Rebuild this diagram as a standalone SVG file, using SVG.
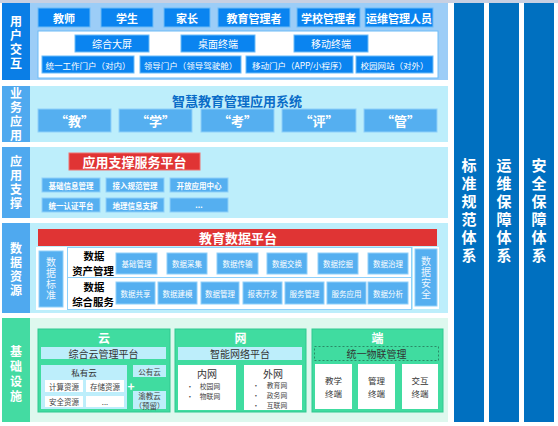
<svg xmlns="http://www.w3.org/2000/svg" width="558" height="426" viewBox="0 0 558 426">
<style>
text{font-family:"Noto Sans CJK SC","Noto Sans",sans-serif;text-anchor:middle;dominant-baseline:central}
.v{writing-mode:vertical-rl;text-orientation:upright}
.lbl{fill:#fff;font-size:12px;font-weight:bold;letter-spacing:2px}
.lbl3{fill:#fff;font-size:12px;font-weight:bold;letter-spacing:3px}
.hd{fill:#fff;font-size:13px;font-weight:bold}
.hd2{fill:#fff;font-size:12px;font-weight:bold}
.col{fill:#fff;font-size:15px;font-weight:bold;letter-spacing:3px}
.btn{fill:#0a84f0;stroke:#6cbcf8;stroke-width:1}
.btnt{fill:#fff;font-size:11px;font-weight:bold}
.bt2{fill:#fff;font-size:10px}
.bt3{fill:#fff;font-size:8.5px}
.vt{fill:#eef7ff;font-size:10px;letter-spacing:1px}
.mb{fill:#55aff0;stroke:#8fd0fa;stroke-width:1}
.sm{fill:#fff;font-size:7.5px}
.smb{fill:#fff;font-size:7.5px;font-weight:bold}
.gbox{fill:#40dca0;stroke:#30c890;stroke-width:1}
.cy{fill:#bdeefb}
.wb{fill:#fff}
.dk{fill:#333;font-size:10px}
.dk2{fill:#333;font-size:8.5px}
.dk3{fill:#444;font-size:7.5px}
.dk4{fill:#444;font-size:6.8px}
.bk{fill:#000;font-size:10.4px;font-weight:bold}
</style>
<rect width="558" height="426" fill="#fff"/>
<rect x="0" y="0" width="558" height="3" fill="#c8d0e2"/>

<g id="layer-user">
<rect x="30" y="3" width="418" height="77" fill="#9ccdf7"/>
<rect x="2" y="3" width="28" height="77" fill="#0a7ee6"/>
<text class="lbl v" x="16" y="43">用户交互</text>
<rect class="btn" x="38" y="8" width="52" height="19"/><text class="btnt" x="64" y="17.5">教师</text>
<rect class="btn" x="101" y="8" width="52" height="19"/><text class="btnt" x="127" y="17.5">学生</text>
<rect class="btn" x="164" y="8" width="46" height="19"/><text class="btnt" x="187" y="17.5">家长</text>
<rect class="btn" x="218" y="8" width="72" height="19"/><text class="btnt" x="254" y="17.5">教育管理者</text>
<rect class="btn" x="297" y="8" width="63" height="19"/><text class="btnt" x="328.5" y="17.5">学校管理者</text>
<rect class="btn" x="365" y="8" width="68" height="19"/><text class="btnt" x="399" y="17.5">运维管理人员</text>
<rect x="38" y="31" width="400" height="47" fill="#fff" stroke="#6cbcf8"/>
<rect class="btn" x="75" y="35" width="74" height="17"/><text class="bt2" x="112" y="43.5">综合大屏</text>
<rect class="btn" x="181" y="35" width="74" height="17"/><text class="bt2" x="218" y="43.5">桌面终端</text>
<rect class="btn" x="294" y="35" width="74" height="17"/><text class="bt2" x="331" y="43.5">移动终端</text>
<rect class="btn" x="42" y="56" width="92" height="17"/><text class="bt3" x="88" y="64.5">统一工作门户（对内）</text>
<rect class="btn" x="140" y="56" width="101" height="17"/><text class="bt3" x="190.5" y="64.5">领导门户（领导驾驶舱）</text>
<rect class="btn" x="246" y="56" width="107" height="17"/><text class="bt3" x="299.5" y="64.5">移动门户（APP/小程序）</text>
<rect class="btn" x="356" y="56" width="77" height="17"/><text class="bt3" x="394.5" y="64.5">校园网站（对外）</text>
</g>

<g id="layer-business">
<rect x="30" y="86" width="418" height="56" fill="#bdeefb"/>
<rect x="2" y="86" width="28" height="56" fill="#4fa9ef"/>
<text class="lbl v" x="16" y="115">业务应用</text>
<text x="237" y="100" fill="#0a6cc8" font-size="13" font-weight="bold">智慧教育管理应用系统</text>
<rect class="mb" x="38" y="109" width="73" height="23"/><text class="hd" x="74.5" y="120.5">“教”</text>
<rect class="mb" x="119" y="109" width="73" height="23"/><text class="hd" x="155.5" y="120.5">“学”</text>
<rect class="mb" x="201" y="109" width="73" height="23"/><text class="hd" x="237.5" y="120.5">“考”</text>
<rect class="mb" x="282" y="109" width="74" height="23"/><text class="hd" x="319" y="120.5">“评”</text>
<rect class="mb" x="364" y="109" width="73" height="23"/><text class="hd" x="400.5" y="120.5">“管”</text>
</g>

<g id="layer-support">
<rect x="30" y="147" width="418" height="71" fill="#bdeefb"/>
<rect x="2" y="147" width="28" height="71" fill="#4fa9ef"/>
<text class="lbl v" x="16" y="183.5">应用支撑</text>
<rect x="69" y="153" width="131" height="17" fill="#e03434" stroke="#f07070"/><text class="hd" x="134.5" y="161.5">应用支撑服务平台</text>
<rect class="mb" x="42" y="178" width="58" height="14"/><text class="smb" x="71" y="185">基础信息管理</text>
<rect class="mb" x="106" y="178" width="58" height="14"/><text class="smb" x="135" y="185">接入规范管理</text>
<rect class="mb" x="170" y="178" width="58" height="14"/><text class="smb" x="199" y="185">开放应用中心</text>
<rect class="mb" x="42" y="198" width="58" height="14"/><text class="smb" x="71" y="205">统一认证平台</text>
<rect class="mb" x="106" y="198" width="58" height="14"/><text class="smb" x="135" y="205">地理信息支撑</text>
<rect class="mb" x="170" y="198" width="58" height="14"/><text class="smb" x="199" y="204">...</text>
</g>

<g id="layer-data">
<rect x="30" y="223" width="418" height="90" fill="#bdeefb"/>
<rect x="2" y="223" width="28" height="90" fill="#4fa9ef"/>
<text class="lbl v" x="16" y="270.5">数据资源</text>
<rect x="38" y="229" width="399" height="17" fill="#e03434"/><text class="hd" x="238" y="237.5">教育数据平台</text>
<rect x="36" y="247" width="376" height="63" fill="#fff"/>
<rect class="mb" x="39" y="251" width="24" height="56"/>
<text class="vt v" x="51" y="279">数据标准</text>
<rect x="67.5" y="247.5" width="344" height="30" fill="none" stroke="#8fd0fa"/>
<rect x="67.5" y="277.5" width="344" height="32" fill="none" stroke="#8fd0fa"/>
<text class="bk"><tspan x="94" y="255">数据</tspan><tspan x="93" y="270">资产管理</tspan></text>
<text class="bk"><tspan x="94" y="286">数据</tspan><tspan x="93" y="301">综合服务</tspan></text>
<rect class="mb" x="116" y="253" width="41" height="21"/><text class="sm" x="136.5" y="263.5">基础管理</text>
<rect class="mb" x="167" y="253" width="40" height="21"/><text class="sm" x="187" y="263.5">数据采集</text>
<rect class="mb" x="217" y="253" width="41" height="21"/><text class="sm" x="237.5" y="263.5">数据传输</text>
<rect class="mb" x="267" y="253" width="40" height="21"/><text class="sm" x="287" y="263.5">数据交换</text>
<rect class="mb" x="318" y="253" width="40" height="21"/><text class="sm" x="338" y="263.5">数据挖掘</text>
<rect class="mb" x="368" y="253" width="40" height="21"/><text class="sm" x="388" y="263.5">数据治理</text>
<rect class="mb" x="116" y="282" width="39" height="22"/><text class="sm" x="135.5" y="293">数据共享</text>
<rect class="mb" x="158" y="282" width="39" height="22"/><text class="sm" x="177.5" y="293">数据建模</text>
<rect class="mb" x="201" y="282" width="38" height="22"/><text class="sm" x="220" y="293">数据管理</text>
<rect class="mb" x="243" y="282" width="39" height="22"/><text class="sm" x="262.5" y="293">报表开发</text>
<rect class="mb" x="285" y="282" width="39" height="22"/><text class="sm" x="304.5" y="293">服务管理</text>
<rect class="mb" x="327" y="282" width="39" height="22"/><text class="sm" x="346.5" y="293">服务应用</text>
<rect class="mb" x="368" y="282" width="40" height="22"/><text class="sm" x="388" y="293">数据分析</text>
<rect x="413" y="247" width="26" height="62" fill="#fff"/>
<rect class="mb" x="415" y="249" width="22" height="57"/>
<text class="vt v" x="426" y="278">数据安全</text>
</g>

<g id="layer-infra">
<rect x="30" y="318" width="418" height="104" fill="#def8ee"/>
<rect x="2" y="318" width="28" height="104" fill="#44dba2"/>
<text class="lbl3 v" x="16" y="375">基础设施</text>
<g id="cloud">
<rect class="gbox" x="38" y="329" width="132" height="83"/>
<text class="hd2" x="104" y="337">云</text>
<rect class="cy" x="41" y="347" width="125" height="12"/><text class="dk" x="103.5" y="353.5">综合云管理平台</text>
<rect class="cy" x="41" y="365" width="86" height="44"/><text class="dk2" x="84" y="372">私有云</text>
<rect class="wb" x="45" y="380" width="38" height="12"/><text class="dk3" x="64" y="386">计算资源</text>
<rect class="wb" x="86" y="380" width="38" height="12"/><text class="dk3" x="105" y="386">存储资源</text>
<rect class="wb" x="45" y="396" width="38" height="11"/><text class="dk3" x="64" y="401.5">安全资源</text>
<rect class="wb" x="86" y="396" width="38" height="11"/><text class="dk3" x="105" y="401">...</text>
<text x="131" y="385" fill="#fff" font-size="12" font-weight="bold">+</text>
<rect class="cy" x="133" y="365" width="33" height="12"/><text class="dk3" x="149.5" y="371">公有云</text>
<rect class="cy" x="133" y="391" width="33" height="18"/><text class="dk3" font-size="6"><tspan x="149.5" y="395">渝教云</tspan><tspan x="149.5" y="405">（预留）</tspan></text>
</g>
<g id="net">
<rect class="gbox" x="175" y="329" width="131" height="83"/>
<text class="hd2" x="240.5" y="337">网</text>
<rect class="cy" x="178" y="347" width="124" height="13"/><text class="dk" x="240" y="353.5">智能网络平台</text>
<rect class="wb" x="178" y="365" width="58" height="45"/>
<text class="dk" x="207" y="373">内网</text>
<text class="dk4"><tspan x="190" y="386">•</tspan><tspan x="210" y="386">校园网</tspan><tspan x="190" y="396">•</tspan><tspan x="210" y="396">物联网</tspan></text>
<rect class="wb" x="244" y="365" width="58" height="45"/>
<text class="dk" x="273" y="373">外网</text>
<text class="dk4"><tspan x="256" y="384.5">•</tspan><tspan x="277" y="384.5">教育网</tspan><tspan x="256" y="394.5">•</tspan><tspan x="277" y="394.5">政务网</tspan><tspan x="256" y="404.5">•</tspan><tspan x="277" y="404.5">互联网</tspan></text>
</g>
<g id="terminal">
<rect class="gbox" x="312" y="329" width="131" height="83"/>
<text class="hd2" x="377.5" y="337">端</text>
<rect x="314.5" y="346.5" width="124" height="14" fill="none" stroke="#2a8a66" stroke-dasharray="2,2"/><text class="dk" x="376.5" y="353.5">统一物联管理</text>
<rect class="wb" x="315" y="364" width="37" height="45"/><text class="dk2"><tspan x="333.5" y="380">教学</tspan><tspan x="333.5" y="392.5">终端</tspan></text>
<rect class="wb" x="358" y="364" width="37" height="45"/><text class="dk2"><tspan x="376.5" y="380">管理</tspan><tspan x="376.5" y="392.5">终端</tspan></text>
<rect class="wb" x="402" y="364" width="36" height="45"/><text class="dk2"><tspan x="420" y="380">交互</tspan><tspan x="420" y="392.5">终端</tspan></text>
</g>
</g>

<g id="col-standard">
<rect x="454" y="3" width="30" height="419" fill="#0070c0"/>
<text class="col v" x="469" y="212">标准规范体系</text>
</g>
<g id="col-ops">
<rect x="489" y="3" width="30" height="419" fill="#0070c0"/>
<text class="col v" x="504" y="212">运维保障体系</text>
</g>
<g id="col-security">
<rect x="524" y="3" width="30" height="419" fill="#0070c0"/>
<text class="col v" x="539" y="212">安全保障体系</text>
</g>
<g id="connectors"></g>
</svg>
